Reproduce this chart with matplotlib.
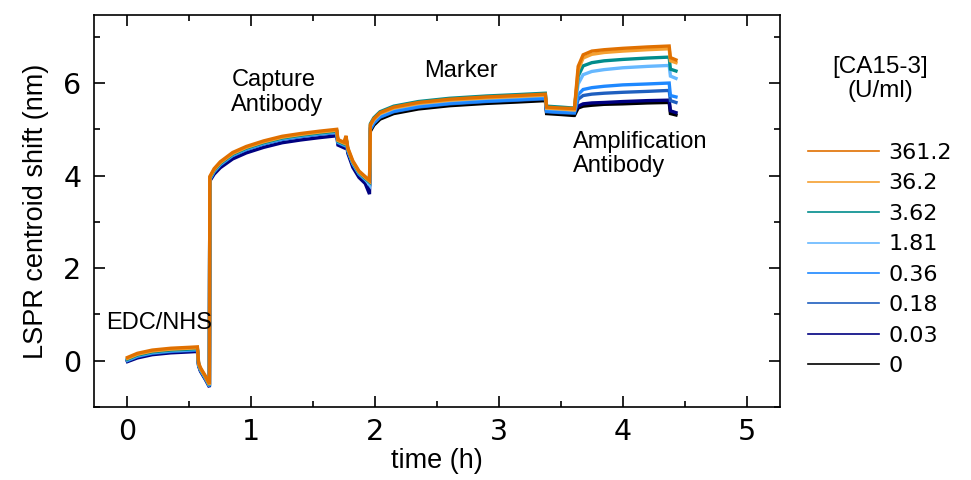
import matplotlib
matplotlib.use("Agg")
import matplotlib.pyplot as plt
from matplotlib.lines import Line2D

# ---------------- data ----------------
# time key points (h): EDC/NHS | Capture Ab | Marker | Amplification Ab
time_h = [0.00, 0.08, 0.20, 0.35, 0.50, 0.565, 0.575, 0.59, 0.63, 0.662,
          0.665, 0.70, 0.75, 0.85, 0.96, 1.10, 1.25, 1.40, 1.55, 1.69, 1.70, 1.75, 1.765, 1.78, 1.82, 1.87, 1.92, 1.955,
          1.962, 1.99, 2.04, 2.15, 2.35, 2.60, 2.90, 3.15, 3.375, 3.385, 3.50, 3.60,
          3.61, 3.64, 3.68, 3.75, 3.85, 4.00, 4.20, 4.375, 4.385, 4.43]

s_0 = [0.00, 0.09, 0.16, 0.20, 0.22, 0.23, -0.10, -0.20, -0.38, -0.54,
       3.93, 4.10, 4.25, 4.45, 4.58, 4.70, 4.80, 4.86, 4.91, 4.95, 4.73, 4.67, 4.81, 4.55, 4.27, 4.05, 3.93, 3.85,
       4.96, 5.09, 5.22, 5.34, 5.44, 5.51, 5.56, 5.59, 5.62, 5.34, 5.32, 5.30,
       5.30, 5.46, 5.50, 5.52, 5.54, 5.55, 5.57, 5.58, 5.34, 5.31]
s_0_03 = [-0.02, 0.06, 0.13, 0.17, 0.19, 0.20, -0.12, -0.23, -0.41, -0.57,
          3.88, 4.03, 4.17, 4.36, 4.49, 4.61, 4.71, 4.77, 4.82, 4.86, 4.66, 4.60, 4.74, 4.48, 4.18, 3.96, 3.83, 3.60,
          5.03, 5.16, 5.29, 5.41, 5.51, 5.58, 5.63, 5.66, 5.69, 5.41, 5.39, 5.38,
          5.38, 5.50, 5.55, 5.57, 5.58, 5.60, 5.62, 5.63, 5.40, 5.36]
s_0_18 = [0.00, 0.09, 0.16, 0.20, 0.22, 0.23, -0.10, -0.21, -0.39, -0.55,
          3.91, 4.08, 4.23, 4.43, 4.56, 4.68, 4.78, 4.84, 4.89, 4.93, 4.71, 4.65, 4.79, 4.53, 4.25, 4.03, 3.91, 3.83,
          5.00, 5.13, 5.26, 5.38, 5.48, 5.55, 5.60, 5.63, 5.66, 5.38, 5.36, 5.35,
          5.35, 5.65, 5.73, 5.76, 5.78, 5.80, 5.82, 5.84, 5.62, 5.58]
s_0_36 = [0.01, 0.10, 0.17, 0.21, 0.23, 0.24, -0.10, -0.20, -0.38, -0.55,
          3.92, 4.09, 4.24, 4.44, 4.57, 4.69, 4.79, 4.85, 4.90, 4.94, 4.72, 4.66, 4.80, 4.54, 4.26, 4.04, 3.92, 3.84,
          5.01, 5.14, 5.27, 5.39, 5.49, 5.56, 5.61, 5.64, 5.67, 5.39, 5.37, 5.36,
          5.36, 5.75, 5.86, 5.90, 5.93, 5.96, 5.98, 6.00, 5.73, 5.70]
s_1_81 = [0.02, 0.11, 0.18, 0.22, 0.24, 0.25, -0.09, -0.19, -0.37, -0.54,
          3.93, 4.10, 4.25, 4.45, 4.58, 4.70, 4.80, 4.86, 4.91, 4.95, 4.73, 4.67, 4.81, 4.55, 4.27, 4.05, 3.93, 3.80,
          5.07, 5.20, 5.33, 5.45, 5.55, 5.62, 5.67, 5.70, 5.73, 5.45, 5.43, 5.42,
          5.42, 5.98, 6.18, 6.25, 6.29, 6.33, 6.36, 6.38, 6.15, 6.10]
s_3_62 = [0.03, 0.12, 0.19, 0.23, 0.25, 0.26, -0.08, -0.18, -0.36, -0.53,
          3.94, 4.11, 4.26, 4.46, 4.59, 4.71, 4.81, 4.87, 4.92, 4.96, 4.74, 4.68, 4.82, 4.56, 4.28, 4.06, 3.94, 3.86,
          5.12, 5.25, 5.38, 5.50, 5.60, 5.67, 5.72, 5.75, 5.78, 5.50, 5.48, 5.46,
          5.46, 6.15, 6.37, 6.44, 6.48, 6.51, 6.54, 6.56, 6.30, 6.26]
s_36_2 = [0.05, 0.14, 0.21, 0.25, 0.27, 0.28, -0.07, -0.17, -0.35, -0.52,
          3.96, 4.13, 4.28, 4.48, 4.61, 4.73, 4.83, 4.89, 4.94, 4.98, 4.76, 4.70, 4.84, 4.58, 4.30, 4.08, 3.96, 3.88,
          5.08, 5.21, 5.34, 5.46, 5.56, 5.63, 5.68, 5.71, 5.74, 5.46, 5.44, 5.42,
          5.42, 6.28, 6.54, 6.62, 6.66, 6.69, 6.72, 6.74, 6.48, 6.44]
s_361_2 = [0.07, 0.16, 0.23, 0.27, 0.29, 0.30, -0.05, -0.15, -0.33, -0.50,
           3.98, 4.15, 4.30, 4.50, 4.63, 4.75, 4.85, 4.91, 4.96, 5.00, 4.78, 4.72, 4.86, 4.60, 4.32, 4.10, 3.98, 3.90,
           5.10, 5.23, 5.36, 5.48, 5.58, 5.65, 5.70, 5.73, 5.76, 5.48, 5.46, 5.45,
           5.45, 6.36, 6.61, 6.69, 6.72, 6.75, 6.78, 6.80, 6.55, 6.50]

labels = ["0", "0.03", "0.18", "0.36", "1.81", "3.62", "36.2", "361.2"]
series = [s_0, s_0_03, s_0_18, s_0_36, s_1_81, s_3_62, s_36_2, s_361_2]
colors = ["#000000", "#000080", "#1f5fbf", "#1e88ff", "#66b8ff", "#008c8c", "#f5a030", "#e07000"]

x_ticks = [0, 1, 2, 3, 4, 5]
y_ticks = [0, 2, 4, 6]

phase_labels = ["EDC/NHS", "Capture\nAntibody", "Marker", "Amplification\nAntibody"]
phase_pos = [(-0.17, 0.82), (0.84, 5.79), (2.40, 6.27), (3.60, 4.47)]

# ---------------- figure ----------------
W, H = 971, 480
fig = plt.figure(figsize=(W / 100, H / 100), dpi=100)
ax = fig.add_axes([94 / W, 1 - 407 / H, (780 - 94) / W, (407 - 15) / H])

for vals, lab, col in zip(series, labels, colors):
    ax.plot(time_h, vals, color=col, lw=2.4, label=lab, solid_joinstyle="miter")

ax.set_xlim(-0.27, 5.27)
ax.set_ylim(-1.0, 7.47)
ax.set_xticks(x_ticks)
ax.set_yticks(y_ticks)
ax.set_xticks([0.5, 1.5, 2.5, 3.5, 4.5], minor=True)
ax.set_yticks([-1, 1, 3, 5, 7], minor=True)
ax.tick_params(which="both", direction="in", top=True, right=True, width=1.2, color="black")
ax.tick_params(which="major", length=8)
ax.tick_params(which="minor", length=4.5)
ax.tick_params(axis="x", which="major", pad=8)
ax.tick_params(axis="y", which="major", pad=9)
for lab in ax.get_xticklabels() + ax.get_yticklabels():
    lab.set_fontfamily("DejaVu Sans")
    lab.set_fontsize(20.5)
for sp in ax.spines.values():
    sp.set_linewidth(1.2)

ax.set_xlabel("time (h)", fontfamily="Liberation Sans", fontsize=19.5, labelpad=1)
ax.set_ylabel("LSPR centroid shift (nm)", fontfamily="Liberation Sans", fontsize=19.5, labelpad=10)

for txt, (px, py) in zip(phase_labels, phase_pos):
    ax.text(px, py, txt, ha="left", va="center", fontfamily="Liberation Sans",
            fontsize=17, linespacing=1.15)

# legend
handles = [Line2D([], [], color=c, lw=1.2) for c in colors][::-1]
leg = ax.legend(handles, labels[::-1], loc="upper left",
                bbox_to_anchor=(808 / W, 1 - 143 / H), bbox_transform=fig.transFigure,
                frameon=False, borderpad=0, borderaxespad=0,
                handlelength=3.2, handletextpad=0.42, labelspacing=0.47,
                prop={"family": "DejaVu Sans", "size": 16})
fig.text(880 / W, 1 - 79 / H, "[CA15-3]\n(U/ml)", ha="center", va="center",
         fontfamily="Liberation Sans", fontsize=17.5, linespacing=1.1)

fig.savefig("out.png", dpi=100)
